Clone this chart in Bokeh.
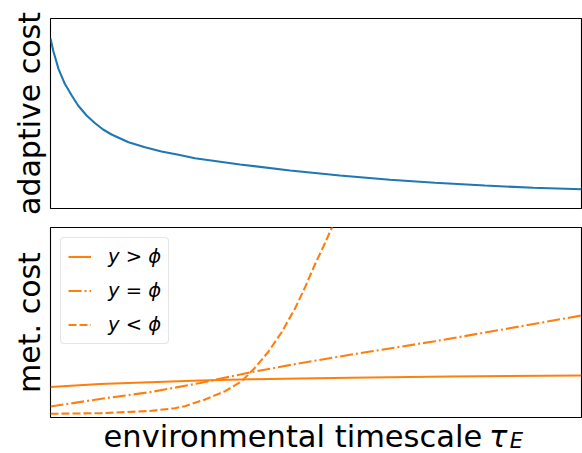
from bokeh.plotting import figure
from bokeh.layouts import column
from bokeh.models import Range1d, FixedTicker, Legend, LegendItem
from bokeh.core.properties import value
from bokeh.embed import file_html
from bokeh.resources import INLINE

# --- data (arbitrary units) ---
tau_adapt = [0.00, 0.05, 0.15, 0.27, 0.40, 0.52, 0.68, 0.84, 0.99, 1.15, 1.47, 1.78,
             2.09, 2.41, 2.72, 3.57, 4.51, 5.45, 6.39, 7.24, 8.18, 9.09, 10.0]
adaptive_cost = [170, 158, 139.7, 124.7, 113, 103, 93, 85.3, 79, 74, 66.3, 61.3,
                 57, 53.7, 50.3, 44, 38, 33, 28.7, 25.7, 23, 20.7, 19.3]

tau_gt = [0.0, 0.93, 1.87, 2.82, 3.75, 4.70, 5.64, 7.52, 10.0]
met_gt = [30.5, 33.5, 35.3, 37, 38.2, 39, 39.8, 41, 42]

tau_eq = [0.0, 0.93, 1.87, 2.82, 3.75, 4.70, 5.64, 7.24, 8.46, 10.0]
met_eq = [11, 18.5, 25.3, 34.5, 45, 54.3, 62.7, 76.3, 87.5, 102]

tau_lt = [0.0, 0.93, 1.87, 2.34, 2.53, 2.91, 3.29, 3.60, 3.85, 4.10, 4.35, 4.60,
          4.79, 4.98, 5.14, 5.30, 5.46]
met_lt = [3.7, 4.3, 6.5, 9.3, 11.3, 18, 26.3, 36.3, 49.7, 65.5, 85, 108.5,
          129.7, 153, 171, 190, 212]

labels = ["y > \u03d5", "y = \u03d5", "y < \u03d5"]
xlabel_parts = ["environmental timescale", "\u03c4", "E"]

BLUE = "#1f77b4"
ORANGE = "#ff7f0e"
FONT = "DejaVu Sans"

x_range = Range1d(0, 10)


def make_fig(height, top, bottom, ylabel):
    p = figure(width=582, height=height, output_backend="svg", toolbar_location=None,
               x_range=x_range, y_range=Range1d(0, 190), x_axis_location=None,
               min_border_left=50, min_border_right=1, min_border_top=top,
               min_border_bottom=bottom)
    p.xgrid.visible = False
    p.ygrid.visible = False
    p.outline_line_color = "black"
    p.outline_line_width = 1.1
    p.outline_line_alpha = 1.0
    ax = p.yaxis[0]
    ax.ticker = FixedTicker(ticks=[])
    ax.axis_line_color = None
    ax.major_tick_line_color = None
    ax.minor_tick_line_color = None
    ax.major_tick_out = 0
    ax.major_tick_in = 0
    ax.minor_tick_out = 0
    ax.minor_tick_in = 0
    ax.major_label_standoff = 0
    ax.axis_label = ylabel
    ax.axis_label_text_font = FONT
    ax.axis_label_text_font_size = "30px"
    ax.axis_label_text_font_style = "normal"
    ax.axis_label_text_color = "black"
    ax.axis_label_standoff = 4
    return p


p1 = make_fig(218, 18, 10, "adaptive cost")
p1.line(tau_adapt, adaptive_cost, line_color=BLUE, line_width=2.1)

p2 = make_fig(201, 9, 2, "met. cost")
r1 = p2.line(tau_gt, met_gt, line_color=ORANGE, line_width=2.1)
r2 = p2.line(tau_eq, met_eq, line_color=ORANGE, line_width=2.1, line_dash="13 3 2 3")
r3 = p2.line(tau_lt, met_lt, line_color=ORANGE, line_width=2.1, line_dash="8 3")

legend = Legend(items=[LegendItem(label=labels[0], renderers=[r1]),
                       LegendItem(label=labels[1], renderers=[r2]),
                       LegendItem(label=labels[2], renderers=[r3])],
                location="top_left")
legend.label_text_font = FONT
legend.label_text_font_style = "italic"
legend.label_text_font_size = "19.5px"
legend.label_text_color = "black"
legend.glyph_width = 23
legend.glyph_height = 21
legend.label_height = 21
legend.label_standoff = 17
legend.spacing = 11
legend.padding = 7
legend.margin = 10
legend.border_line_color = "#cccccc"
legend.border_line_width = 1
legend.background_fill_alpha = 0.8
if hasattr(legend, "border_radius"):
    legend.border_radius = 4
p2.add_layout(legend)

# x-axis label strip: "environmental timescale" + italic tau with subscript E
p3 = figure(width=582, height=34, output_backend="svg", toolbar_location=None,
            x_range=x_range, y_range=Range1d(-36, -2), x_axis_location=None,
            y_axis_location=None, min_border_left=50, min_border_right=1,
            min_border_top=0, min_border_bottom=0)
p3.xgrid.visible = False
p3.ygrid.visible = False
p3.outline_line_color = None
p3.text(x=[8.13], y=[-19], text=[xlabel_parts[0]], text_align="right",
        text_baseline="alphabetic", text_font=value(FONT), text_font_size="30.5px",
        text_color="black")
p3.text(x=[8.26], y=[-19], text=[xlabel_parts[1]], text_align="left",
        text_baseline="alphabetic", text_font=value(FONT), text_font_size="30.5px",
        text_font_style="italic", text_color="black")
p3.text(x=[8.65], y=[-23], text=[xlabel_parts[2]], text_align="left",
        text_baseline="alphabetic", text_font=value(FONT), text_font_size="21px",
        text_font_style="italic", text_color="black")

layout = column(p1, p2, p3, spacing=0)
open("out.html", "w").write(file_html(layout, INLINE))
